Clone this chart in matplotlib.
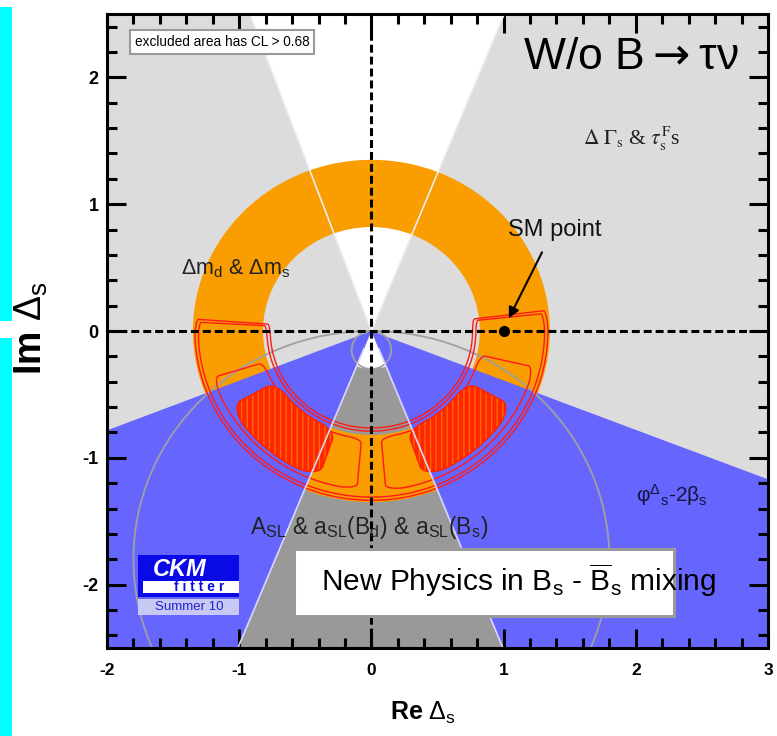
import numpy as np
import matplotlib
matplotlib.use('Agg')
import matplotlib.pyplot as plt
from matplotlib.patches import Polygon, Rectangle, Wedge, Circle
from matplotlib.ticker import MultipleLocator

plt.rcParams['font.family'] = ['Liberation Sans', 'DejaVu Sans']
plt.rcParams['mathtext.fontset'] = 'custom'
plt.rcParams['mathtext.rm'] = 'Liberation Sans'
plt.rcParams['mathtext.it'] = 'Liberation Sans:italic'
plt.rcParams['mathtext.bf'] = 'Liberation Sans:bold'
plt.rcParams['axes.unicode_minus'] = False

# values
x_range = [-2, 3]
y_range = [-2.5, 2.5]
x_ticks = [-2, -1, 0, 1, 2, 3]
y_ticks = [-2, -1, 0, 1, 2]

dgs_wedge = [68.1, 110.2]      # DeltaGamma_s & tau_FS allowed cone (deg)
phi_wedge = [-158.6, -21.3]    # phi_s - 2beta_s (blue)
asl_wedge = [-112.0, -68.3]    # A_SL & a_SL (dark grey)
asl_hole = 0.30
dm_ring = [0.82, 1.35]         # Delta m_d & Delta m_s annulus
asl_circles = [(-1.8, 1.8), (-0.15, 0.15)]   # (centre y, radius)
cl_outer = [0.79, 1.31, -183.0, 6.0]         # r_in, r_out, angle0, angle1
cl_outer2 = [0.765, 1.335, -184.0, 7.0]
cl_pads = [[0.85, 1.25, -163.0, -95.0], [0.84, 1.26, -85.0, -13.0]]
cl_cores = [[0.82, 1.22, -151.0, -109.0], [0.82, 1.22, -71.0, -29.0]]
sm_point = (1.0, 0.0)


def rounded_sector(r0, r1, a0, a1, k=0.2, n=3000):
    # rounded rectangle in (angle, radius) space, mapped to the plane
    pts = []
    for cu, cv, t0 in [(1, 1, 0), (-1, 1, 90), (-1, -1, 180), (1, -1, 270)]:
        t = np.radians(np.linspace(t0, t0 + 90, 40))
        pts.append(np.column_stack([cu * (1 - k) + k * np.cos(t),
                                    cv * (1 - k) + k * np.sin(t)]))
    pts = np.vstack(pts + [pts[0][:1]])
    seg = np.hypot(*np.diff(pts, axis=0).T)
    s = np.concatenate([[0], np.cumsum(seg)])
    ss = np.linspace(0, s[-1], n)
    u = np.interp(ss, s, pts[:, 0])
    v = np.interp(ss, s, pts[:, 1])
    a = np.radians((a0 + a1) / 2 + (a1 - a0) / 2 * u)
    r = (r0 + r1) / 2 + (r1 - r0) / 2 * v
    return np.column_stack([r * np.cos(a), r * np.sin(a)])


fig = plt.figure(figsize=(7.77, 7.36), dpi=100)
ax = fig.add_axes([107 / 777, 88 / 736, 661 / 777, 634 / 736])
ax.set_xlim(x_range)
ax.set_ylim(y_range)
ax.set_facecolor('#dcdcdc')

# constraint regions
ax.add_patch(Wedge((0, 0), 10, dgs_wedge[0], dgs_wedge[1], fc='white', ec='none'))
ax.add_patch(Wedge((0, 0), 10, asl_wedge[0], asl_wedge[1], fc='#999999', ec='none'))
ax.add_patch(Wedge((0, 0), asl_hole, asl_wedge[0], asl_wedge[1], fc='white', ec='none'))
ax.add_patch(Wedge((0, 0), dm_ring[1], 0, 360, width=dm_ring[1] - dm_ring[0],
                   fc='#f99d00', ec='none'))
ax.add_patch(Wedge((0, 0), 10, phi_wedge[0], asl_wedge[0], fc='#6666ff', ec='none'))
ax.add_patch(Wedge((0, 0), 10, asl_wedge[1], phi_wedge[1], fc='#6666ff', ec='none'))

for ang in dgs_wedge:
    a = np.radians(ang)
    ax.plot([0, 10 * np.cos(a)], [0, 10 * np.sin(a)], color='#eeeeee', lw=1.2)
for ang in asl_wedge:
    a = np.radians(ang)
    ax.plot([0.15 * np.cos(a), 10 * np.cos(a)], [0.15 * np.sin(a), 10 * np.sin(a)],
            color='#d8d8ff', lw=1.2)

for cy, rad in asl_circles:
    ax.add_patch(Circle((0, cy), rad, fill=False, ec='#a0a0a0', lw=1.3))

# fit contours
for par in [cl_outer, cl_outer2]:
    ax.add_patch(Polygon(rounded_sector(*par, k=0.08), closed=True, fill=False,
                         ec='#ff1a1a', lw=1.0))
for par in cl_pads:
    ax.add_patch(Polygon(rounded_sector(*par, k=0.2), closed=True, fill=False,
                         ec='#ff1a1a', lw=1.0))
for par in cl_cores:
    ax.add_patch(Polygon(rounded_sector(*par, k=0.45), closed=True, fc='#ff2600',
                         ec='#ff6a00', hatch='|||', lw=0))
    ax.add_patch(Polygon(rounded_sector(*par, k=0.45), closed=True, fill=False,
                         ec='#ff2000', lw=1.0))

ax.axhline(0, color='k', lw=2.2, ls=(0, (2.6, 1.3)))
ax.axvline(0, color='k', lw=2.2, ls=(0, (2.6, 1.3)))
ax.plot(*sm_point, 'o', color='k', ms=7)

# axes styling
ax.set_xticks(x_ticks)
ax.set_yticks(y_ticks)
ax.xaxis.set_minor_locator(MultipleLocator(0.2))
ax.yaxis.set_minor_locator(MultipleLocator(0.2))
ax.tick_params(which='both', direction='in', top=True, right=True, width=2.2)
ax.tick_params(which='major', length=14)
ax.tick_params(which='minor', length=7)
ax.tick_params(axis='x', pad=11, labelsize=12.5)
ax.tick_params(axis='y', pad=6, labelsize=13)
for lab in ax.get_xticklabels() + ax.get_yticklabels():
    lab.set_fontweight('bold')
for sp in ax.spines.values():
    sp.set_linewidth(2.2)

# labels in the plot
ax.text(-1.79, 2.28, 'excluded area has CL > 0.68', fontsize=9.8, va='center',
        bbox=dict(boxstyle='square,pad=0.35', fc='white', ec='#999999', lw=1.5))
ax.text(2.78, 2.07, 'W/o B$\\rightarrow$\u03c4\u03bd', fontsize=32, ha='right',
        va='baseline', math_fontfamily='dejavusans')
ax.text(1.6, 1.47, r'$\Delta\ \Gamma_{\rm s}$ & $\tau^{\rm F}_{\rm s}$s', fontsize=15.5,
        va='baseline', color='#222222', family='Liberation Serif', math_fontfamily='stix')
ax.text(1.03, 0.75, 'SM point', fontsize=17, va='baseline', color='#111111')
ax.annotate('', xy=(1.03, 0.08), xytext=(1.30, 0.64),
            arrowprops=dict(arrowstyle='-|>', color='k', lw=1.5, mutation_scale=16))
ax.text(-1.44, 0.45, r'$\Delta$m$_{\rm d}$ & $\Delta$m$_{\rm s}$', fontsize=15.5,
        va='baseline', color='#222222')
ax.text(2.0, -1.35, '\u03c6$^{\\Delta}{}_{\\rm s}$-2\u03b2$_{\\rm s}$', fontsize=15,
        va='baseline', color='#14143c')
ax.text(-0.92, -1.6, r'A$_{\rm SL}$ & a$_{\rm SL}$(B$_{\rm d}$) & a$_{\rm SL}$(B$_{\rm s}$)',
        fontsize=16.5, va='baseline', color='#222222')

ax.add_patch(Rectangle((-0.582, -2.244), 2.874, 0.527, fc='white', ec='#999999', lw=2.2,
                       zorder=5))
ax.text(-0.38, -2.05, r'New Physics in B$_{\rm s}$ - $\overline{\rm B}_{\rm s}$ mixing',
        fontsize=21.5, va='baseline', zorder=6)

# CKMfitter logo
ax.add_patch(Rectangle((-1.765, -2.094), 0.765, 0.324, fc='#0a0ae6', ec='none', zorder=5))
ax.add_patch(Rectangle((-1.73, -2.063), 0.73, 0.094, fc='white', ec='none', zorder=6))
ax.add_patch(Rectangle((-1.765, -2.236), 0.765, 0.126, fc='#c8c8f4', ec='none', zorder=5))
ax.text(-1.657, -1.93, 'CKM', fontsize=17, color='white', style='italic',
        weight='bold', va='baseline', zorder=7)
ax.text(-1.30, -2.016, 'f i t t e r', fontsize=10, color='#0a0ae6', weight='bold',
        ha='center', va='center', zorder=7)
ax.text(-1.377, -2.173, 'Summer 10', fontsize=9.5, color='#2020d0', ha='center',
        va='center', zorder=7)

# axis titles and framing
fig.text(31 / 777, 1 - 328 / 736, r'Im $\Delta_{\rm s}$', rotation=90, ha='center',
         va='center', fontsize=27, weight='bold')
fig.text(390 / 777, 1 - 720 / 736, r'Re $\Delta_{\rm s}$', va='baseline', fontsize=18,
         weight='bold')
fig.patches.append(Rectangle((0, 1 - 321 / 736), 12 / 777, 314 / 736,
                             transform=fig.transFigure, fc='#00ffff', ec='none'))
fig.patches.append(Rectangle((0, 0), 12 / 777, 398 / 736,
                             transform=fig.transFigure, fc='#00ffff', ec='none'))

fig.savefig('out.png', dpi=100)
